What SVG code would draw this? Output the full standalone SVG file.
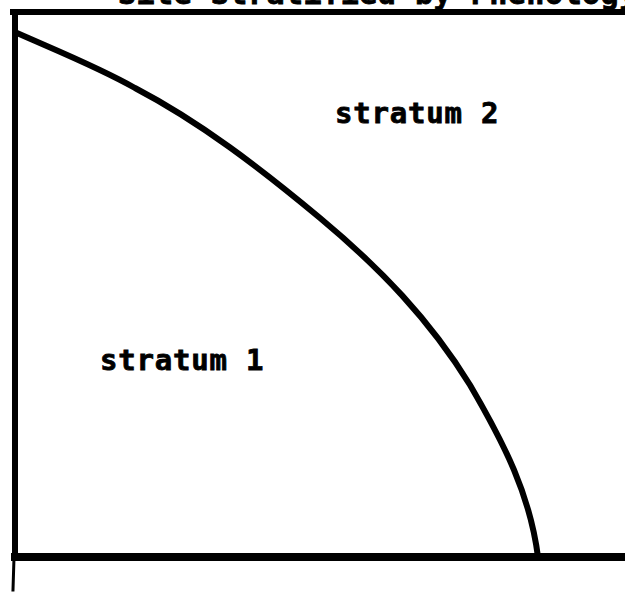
<svg xmlns="http://www.w3.org/2000/svg" width="625" height="597" viewBox="0 0 625 597">
<style>
.ln{fill:none;stroke:#000;stroke-linecap:square;stroke-linejoin:miter}
.lbl{font-family:"DejaVu Sans Mono","Liberation Mono",monospace;font-weight:bold;font-size:29px;letter-spacing:0.8px;fill:#000;stroke:#000;stroke-width:0.8px}
</style>
<rect width="625" height="597" fill="#fff"/>
<text class="lbl" x="118" y="4" style="font-size:30px;letter-spacing:0.5px">Site Stratified by Phenology</text>
<g id="frame">
<path class="ln" d="M13 12 H625" stroke-width="6"/>
<path class="ln" d="M15 12 V557" stroke-width="6"/>
<path class="ln" d="M14 557 L13 590" stroke-width="3"/>
<path class="ln" d="M15 557 H625" stroke-width="8"/>
</g>
<g id="boundary">
<path class="ln" d="M17 33 C60 52 100 68 135 88 C200 122 260 168 320 218 C380 268 430 320 470 385 C505 445 530 495 538 557" stroke-width="6" stroke-linecap="butt"/>
</g>
<g id="stratum1"><text class="lbl" x="100" y="370">stratum 1</text></g>
<g id="stratum2"><text class="lbl" x="335" y="123">stratum 2</text></g>
</svg>
